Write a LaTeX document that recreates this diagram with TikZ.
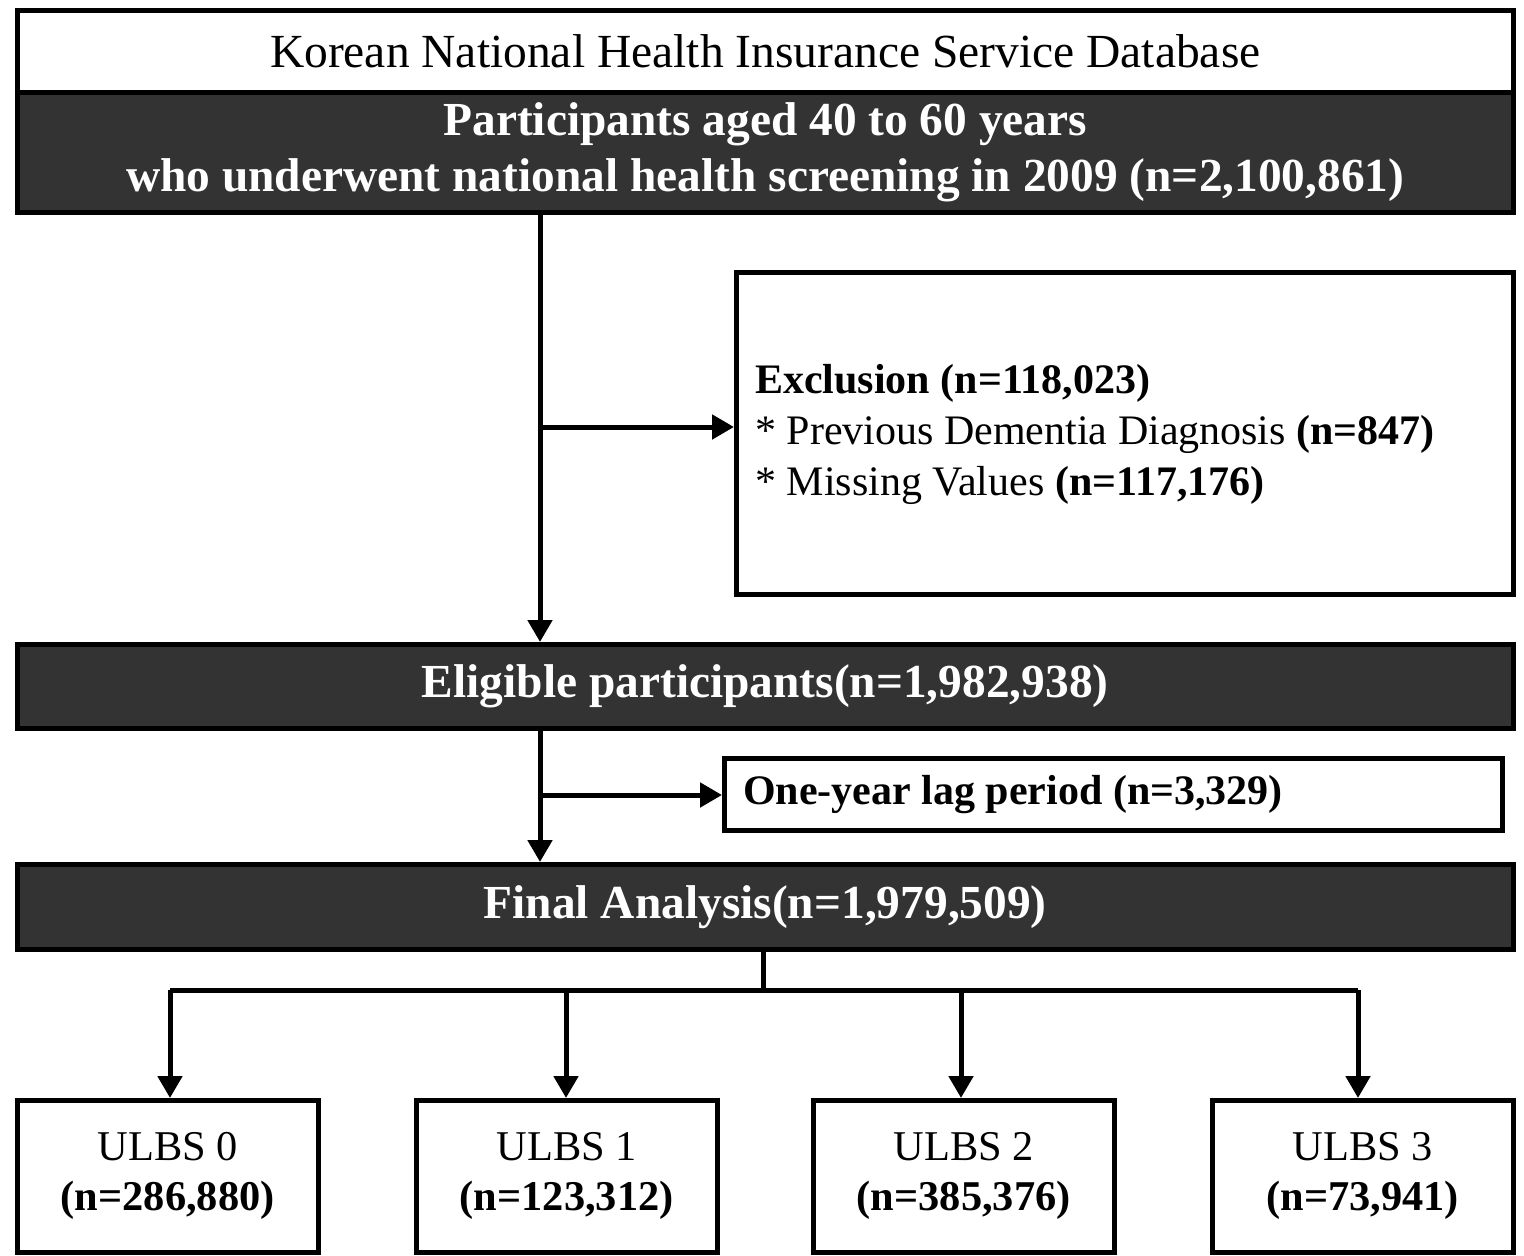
\documentclass[tikz,border=0pt]{standalone}
\usepackage{fontspec}
\setmainfont{Liberation Serif}
\usetikzlibrary{arrows.meta,calc}
\definecolor{darkfill}{HTML}{333333}
\newcommand{\fs}[2]{\fontsize{#1}{#2}\selectfont}
\begin{document}
\begin{tikzpicture}[x=1pt,y=-1pt,
  boxline/.style={draw=black,line width=4.5pt,inner sep=0pt},
  whitebox/.style={boxline,fill=white},
  darkbox/.style={boxline,fill=darkfill,text=white,font=\fs{47.4}{56}\bfseries,align=center},
  ubox/.style={whitebox,minimum width=301pt,minimum height=152pt,anchor=north west,font=\fs{42.4}{50},align=center},
  conn/.style={line width=5pt},
  arr/.style={conn,-{Triangle[length=22pt,width=24pt]}},
]
\useasboundingbox (0,0) rectangle (1524,1256);
\fill[white] (0,0) rectangle (1524,1256);

% top boxes
\node[whitebox,minimum width=1496pt,minimum height=82pt,anchor=north west,font=\fs{47.5}{56}] (db) at (15,8) {Korean National Health Insurance Service Database};
\node[darkbox,minimum width=1496pt,minimum height=120pt,anchor=north west] (part) at (15,90) {Participants aged 40 to 60 years\\who underwent national health screening in 2009 (n=2,100,861)};

% exclusion
\node[whitebox,minimum width=777pt,minimum height=322pt,anchor=north west] (excl) at (734,270) {};
\node[anchor=west,font=\fs{42}{51},align=left,inner sep=0pt] (excltext) at (755,434) {\textbf{Exclusion (n=118,023)}\\* Previous Dementia Diagnosis \textbf{(n=847)}\\* Missing Values \textbf{(n=117,176)}};

% eligible
\node[darkbox,minimum width=1496pt,minimum height=84pt,anchor=north west] (elig) at (15,642) {Eligible participants(n=1,982,938)};

% lag
\node[whitebox,minimum width=778pt,minimum height=72pt,anchor=north west] (lag) at (722,756) {};
\node[anchor=west,font=\fs{42}{50}\bfseries,inner sep=0pt] (lagtext) at (743,795) {One-year lag period (n=3,329)};

% final
\node[darkbox,minimum width=1496pt,minimum height=85pt,anchor=north west] (final) at (15,862) {Final Analysis(n=1,979,509)};

% ULBS boxes
\node[ubox] (u0) at (15,1098) {ULBS 0\\\textbf{(n=286,880)}};
\node[ubox] (u1) at (414,1098) {ULBS 1\\\textbf{(n=123,312)}};
\node[ubox] (u2) at (811,1098) {ULBS 2\\\textbf{(n=385,376)}};
\node[ubox] (u3) at (1210,1098) {ULBS 3\\\textbf{(n=73,941)}};

% connectors
\coordinate (j1) at (540,427);
\coordinate (j2) at (540,795);
\coordinate (stem) at (763,990);
\coordinate (d0) at (170,990);
\coordinate (d1) at (566,990);
\coordinate (d2) at (961,990);
\coordinate (d3) at (1358,990);
\draw[arr] (part.south -| j1) -- (elig.north -| j1);
\draw[arr] (j1) -- (excl.west |- j1);
\draw[arr] (elig.south -| j2) -- (final.north -| j2);
\draw[arr] (j2) -- (lag.west |- j2);
\draw[conn] (final.south -| stem) -- (stem);
\draw[conn] (d0) -- (d3);
\draw[arr] (d0) -- (u0.north -| d0);
\draw[arr] (d1) -- (u1.north -| d1);
\draw[arr] (d2) -- (u2.north -| d2);
\draw[arr] (d3) -- (u3.north -| d3);
\end{tikzpicture}
\end{document}
